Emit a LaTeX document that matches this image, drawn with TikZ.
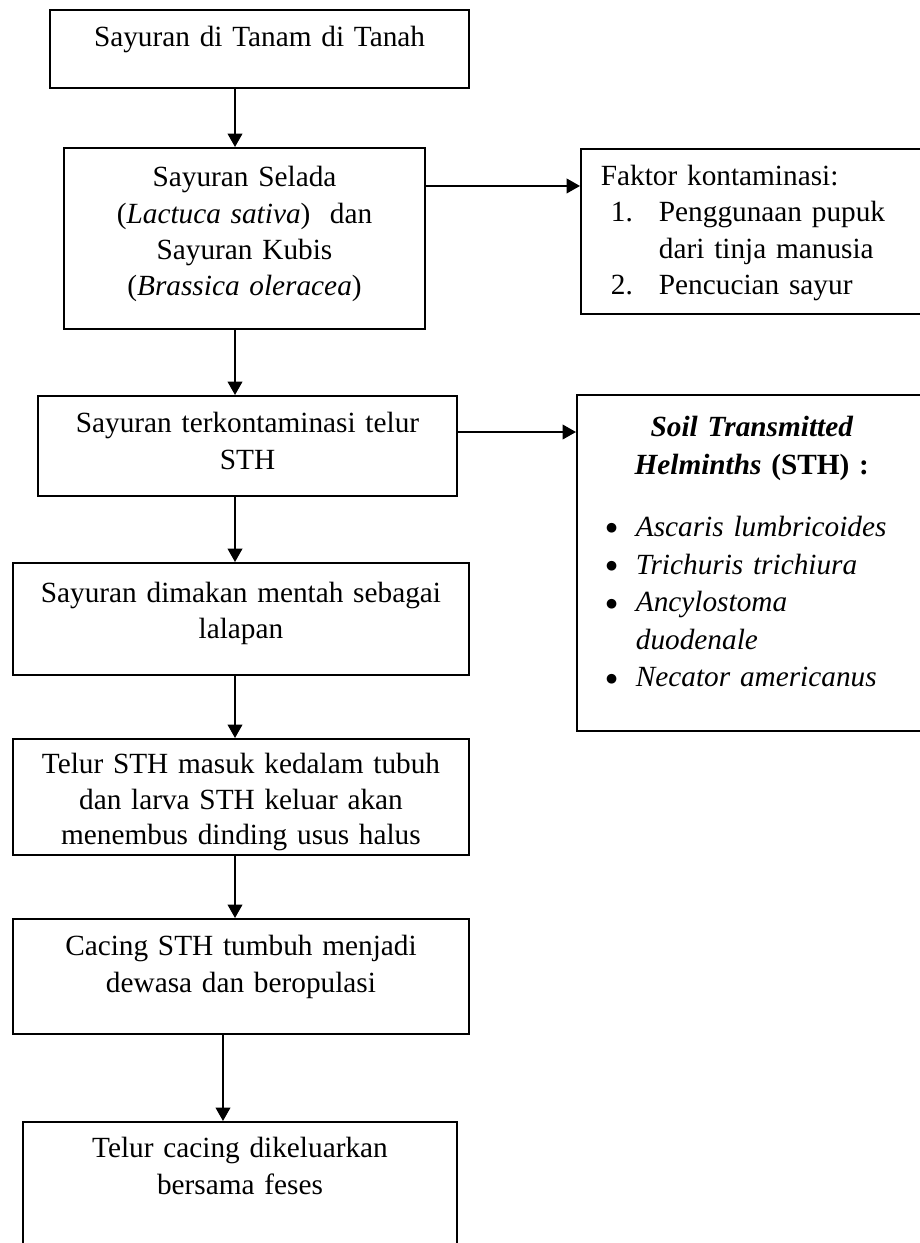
\documentclass[tikz,border=0pt]{standalone}
\usepackage{fontspec}
\setmainfont{Liberation Serif}
\newfontfamily\bulfont{DejaVu Sans}
\usetikzlibrary{arrows.meta}

\newcommand{\fkno}[1]{\hspace*{4.1pt}\makebox[19.7pt][l]{#1}}
\newcommand{\sthbul}{\hspace*{2.2pt}\makebox[12.2pt][l]{\raisebox{1.9pt}{\bulfont\fontsize{5.2}{5.2}\selectfont ●}}}

\begin{document}
\begin{tikzpicture}[
  box/.style={draw, line width=0.7pt, align=center, anchor=north, inner xsep=0pt, inner ysep=0pt,
    font=\fontsize{12}{14.9}\selectfont},
  sidebox/.style={draw, line width=0.7pt, anchor=north west, inner ysep=0pt},
  arr/.style={-{Triangle[width=6pt,length=5.5pt]}, line width=0.8pt}
]
\useasboundingbox (0,0) rectangle (13.234,-17.899);

% main column
\node[box, text width=6.034cm, text height=0.533cm, text depth=0.590cm] (s1) at (3.737,-0.130)
  {Sayuran di Tanam di Tanah};
\node[box, text width=5.198cm, text height=0.562cm, text depth=2.045cm] (s2) at (3.521,-2.117)
  {Sayuran Selada\\(\textit{Lactuca sativa})\ \ dan\\Sayuran Kubis\\(\textit{Brassica oleracea})};
\node[box, text width=6.034cm, text height=0.533cm, text depth=0.907cm] (s3) at (3.564,-5.688)
  {Sayuran terkontaminasi telur\\STH};
\node[box, text width=6.566cm, text height=0.569cm, text depth=1.044cm] (s4) at (3.470,-8.093)
  {Sayuran dimakan mentah sebagai\\lalapan};
\node[box, text width=6.566cm, text height=0.504cm, text depth=1.166cm,
  font=\fontsize{12}{14.4}\selectfont] (s5) at (3.470,-10.627)
  {Telur STH masuk kedalam tubuh\\dan larva STH keluar akan\\menembus dinding usus halus};
\node[box, text width=6.566cm, text height=0.533cm, text depth=1.123cm] (s6) at (3.470,-13.219)
  {Cacing STH tumbuh menjadi\\dewasa dan beropulasi};
\node[box, text width=6.250cm, text height=0.518cm, text depth=1.728cm] (s7) at (3.456,-16.142)
  {Telur cacing dikeluarkan\\bersama feses};

% side boxes
\node[sidebox, inner xsep=8.2pt, text width=4.464cm, align=left, text height=0.526cm, text depth=1.850cm,
  font=\fontsize{12}{14.9}\selectfont] (faktor) at (8.352,-2.131)
  {Faktor kontaminasi:\\
   \fkno{1.}Penggunaan pupuk\\
   \hspace*{23.8pt}dari tinja manusia\\
   \fkno{2.}Pencucian sayur};
\node[sidebox, inner xsep=9.8pt, text width=4.349cm, text height=0.605cm, text depth=4.234cm,
  font=\fontsize{12}{15.4}\selectfont] (sth) at (8.294,-5.674)
  {{\centering\bfseries\itshape Soil Transmitted\\Helminths \upshape(STH) :\par}
   \vspace{10pt}
   \sthbul\textit{Ascaris lumbricoides}\\
   \sthbul\textit{Trichuris trichiura}\\
   \sthbul\textit{Ancylostoma}\\
   \hspace*{14.4pt}\textit{duodenale}\\
   \sthbul\textit{Necator americanus}};

\coordinate (ax) at (3.384,0);
\coordinate (ax2) at (3.211,0);
\coordinate (r1) at (0,-2.678);
\coordinate (r2) at (0,-6.221);

\draw[arr] (s1.south -| ax) -- (s2.north -| ax);
\draw[arr] (s2.south -| ax) -- (s3.north -| ax);
\draw[arr] (s3.south -| ax) -- (s4.north -| ax);
\draw[arr] (s4.south -| ax) -- (s5.north -| ax);
\draw[arr] (s5.south -| ax) -- (s6.north -| ax);
\draw[arr] (s6.south -| ax2) -- (s7.north -| ax2);
\draw[arr] (s2.east |- r1) -- (faktor.west |- r1);
\draw[arr] (s3.east |- r2) -- (sth.west |- r2);
\end{tikzpicture}
\end{document}
